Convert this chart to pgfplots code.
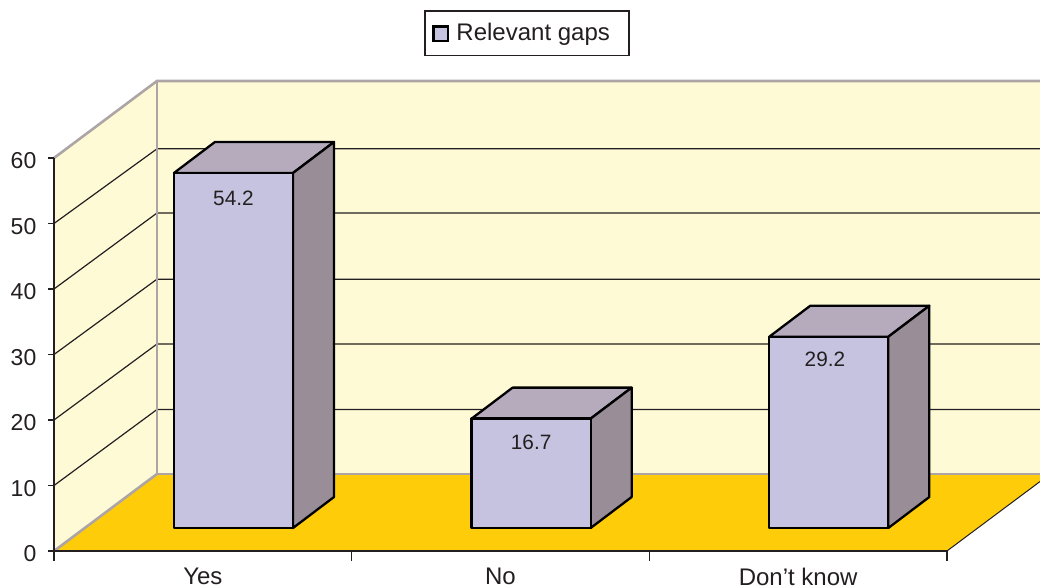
\documentclass[border=0pt]{standalone}
\usepackage{pgfplots}
\pgfplotsset{compat=1.18}
\usepackage{fontspec}
\setmainfont{Liberation Sans}
\definecolor{wall}{HTML}{FFFAD6}
\definecolor{floorc}{HTML}{FFCC0A}
\definecolor{edgec}{HTML}{ADA5A5}
\definecolor{barf}{HTML}{C6C3E0}
\definecolor{bart}{HTML}{B5ABBD}
\definecolor{bars}{HTML}{998D97}
\definecolor{ink}{HTML}{231F20}
\begin{document}
\begin{tikzpicture}
\path[use as bounding box] (0,0) rectangle (520pt,294pt);
\begin{axis}[
  at={(27pt,18.5pt)}, anchor=south west,
  x=148.83pt, y=3.275pt,
  xmin=0, xmax=3, ymin=0, ymax=60,
  clip=false, axis on top,
  axis x line=bottom, axis y line=left,
  axis line style={ink, line width=0.6pt, -},
  xtick={0.5,1.5,2.5},
  xticklabels={Yes,No,Don’t know},
  minor xtick={0,1,2,3},
  ytick={0,10,...,60},
  tick style={ink, line width=0.6pt},
  major x tick style={draw=none},
  minor tick length=5pt,
  major tick length=2.8pt,
  tick align=outside,
  /pgf/number format/assume math mode=true,
  every tick label/.append style={font=\fontsize{11.5}{13}\selectfont, text=ink},
  yticklabel style={xshift=-2.5pt, yshift=-1.5pt},
  xticklabel style={yshift=-2pt, font=\fontsize{12}{14}\selectfont},
  legend style={at={(0.5297,1.3168)}, anchor=center, draw=ink, line width=0.8pt,
    font=\fontsize{12}{14}\selectfont, text=ink, inner xsep=3.5pt, inner ysep=4pt},
  legend cell align=left,
  legend image code/.code={\draw[black, line width=1.3pt, fill=barf] (0pt,-3.8pt) rectangle (7.4pt,3.6pt);},
]
\addlegendimage{black}
\addlegendentry{\hspace*{1.5pt}Relevant gaps\hspace*{4pt}}
% back wall and side wall
\addplot[fill=wall, draw=none, forget plot] coordinates {(0.346,11.76)(3.3124,11.76)(3.3124,71.76)(0.346,71.76)} --cycle;
\addplot[fill=wall, draw=none, forget plot] coordinates {(0,0)(0.346,11.76)(0.346,71.76)(0,60)} --cycle;
% floor
\addplot[fill=floorc, draw=none, forget plot] coordinates {(0,0)(3,0)(3.3124,10.6)(3.3124,11.76)(0.346,11.76)} --cycle;
\addplot[ink, line width=0.5pt, forget plot] coordinates {(3,0)(3.3124,10.6)};
% grid lines
\addplot[ink, line width=0.6pt, forget plot] coordinates {(0,10)(0.346,21.6)(3.3124,21.6)};
\addplot[ink, line width=0.6pt, forget plot] coordinates {(0,20)(0.346,31.6)(3.3124,31.6)};
\addplot[ink, line width=0.6pt, forget plot] coordinates {(0,30)(0.346,41.5)(3.3124,41.5)};
\addplot[ink, line width=0.6pt, forget plot] coordinates {(0,40)(0.346,51.6)(3.3124,51.6)};
\addplot[ink, line width=0.6pt, forget plot] coordinates {(0,50)(0.346,61.4)(3.3124,61.4)};
% wall edges
\addplot[edgec, line width=1.3pt, forget plot] coordinates {(0,60)(0.346,71.76)(3.3124,71.76)};
\addplot[edgec, line width=1.3pt, forget plot] coordinates {(0.346,71.76)(0.346,11.76)(3.3124,11.76)};
\addplot[edgec, line width=1.3pt, forget plot] coordinates {(0,0)(0.346,11.76)};
% Bars
\pgfplotsset{barbase/.style={line width=1.15pt, black, line join=round, yshift=11.5pt, forget plot}}
\addplot[barbase, fill=bart] coordinates {(0.403,54.2)(0.803,54.2)(0.9407,58.93)(0.5407,58.93)} --cycle;
\addplot[barbase, fill=bars] coordinates {(0.803,0)(0.9407,4.73)(0.9407,58.93)(0.803,54.2)} --cycle;
\addplot[barbase, fill=barf] coordinates {(0.403,0)(0.803,0)(0.803,54.2)(0.403,54.2)} --cycle;
\addplot[barbase, fill=bart] coordinates {(1.403,16.7)(1.803,16.7)(1.9407,21.43)(1.5407,21.43)} --cycle;
\addplot[barbase, fill=bars] coordinates {(1.803,0)(1.9407,4.73)(1.9407,21.43)(1.803,16.7)} --cycle;
\addplot[barbase, fill=barf] coordinates {(1.403,0)(1.803,0)(1.803,16.7)(1.403,16.7)} --cycle;
\addplot[barbase, fill=bart] coordinates {(2.403,29.2)(2.803,29.2)(2.9407,33.93)(2.5407,33.93)} --cycle;
\addplot[barbase, fill=bars] coordinates {(2.803,0)(2.9407,4.73)(2.9407,33.93)(2.803,29.2)} --cycle;
\addplot[barbase, fill=barf] coordinates {(2.403,0)(2.803,0)(2.803,29.2)(2.403,29.2)} --cycle;
\node[font=\fontsize{10.4}{12}\selectfont, text=ink] at (axis cs:0.603,53.9) {54.2};
\node[font=\fontsize{10.4}{12}\selectfont, text=ink] at (axis cs:1.603,16.6) {16.7};
\node[font=\fontsize{10.4}{12}\selectfont, text=ink] at (axis cs:2.59,29.3) {29.2};
\end{axis}
\end{tikzpicture}
\end{document}
